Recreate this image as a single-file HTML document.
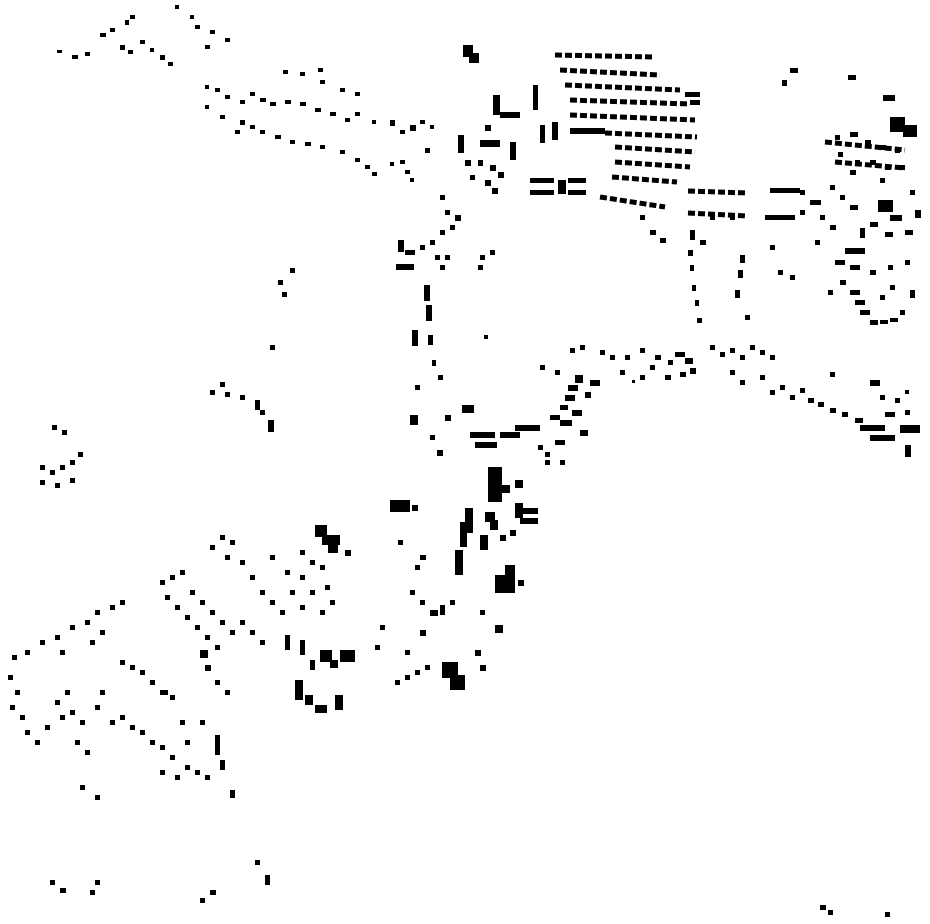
<!DOCTYPE html>
<html><head><meta charset="utf-8"><style>html,body{margin:0;padding:0;background:#fff}svg{display:block}</style></head>
<body>
<svg width="930" height="924" viewBox="0 0 930 924" xmlns="http://www.w3.org/2000/svg">
<rect width="930" height="924" fill="#fff"/>
<g stroke="#000" stroke-width="5" stroke-dasharray="7 3" fill="none">
<line x1="555" y1="55" x2="655" y2="57"/>
<line x1="560" y1="70" x2="660" y2="75"/>
<line x1="565" y1="85" x2="680" y2="90"/>
<line x1="570" y1="100" x2="690" y2="104"/>
<line x1="570" y1="115" x2="695" y2="120"/>
<line x1="605" y1="133" x2="697" y2="137"/>
<line x1="615" y1="147" x2="695" y2="152"/>
<line x1="615" y1="162" x2="690" y2="167"/>
<line x1="612" y1="177" x2="677" y2="182"/>
<line x1="600" y1="197" x2="665" y2="207"/>
<line x1="688" y1="191" x2="748" y2="193"/>
<line x1="688" y1="213" x2="748" y2="216"/>
<line x1="825" y1="142" x2="905" y2="150"/>
<line x1="835" y1="162" x2="905" y2="168"/>
</g>
<g fill="#000">
<path d="M570 128h35v6h-35zM685 92h15v5h-15zM690 100h10v5h-10z"/>
<!-- top-left -->
<path d="M100 33h6v4h-6zM110 28h5v4h-5zM125 20h4v5h-4zM130 15h5v4h-5zM120 45h5v5h-5zM128 50h5v4h-5zM140 40h5v4h-5zM150 48h4v4h-4zM160 55h5v5h-5zM168 62h5v4h-5zM57 50h5v3h-5zM72 55h6v4h-6zM85 52h5v4h-5zM175 5h4v4h-4zM190 15h4v4h-4zM205 45h5v4h-5zM210 30h5v4h-5zM225 38h5v4h-5zM195 25h5v4h-5z"/>
<path d="M205 85h4v4h-4zM215 88h5v4h-5zM225 95h5v4h-5zM240 100h5v4h-5zM250 92h5v4h-5zM260 98h6v4h-6zM270 102h6v4h-6zM285 100h6v4h-6zM300 102h6v4h-6zM315 108h6v4h-6zM330 112h6v4h-6zM345 118h5v4h-5zM355 112h5v4h-5zM372 120h4v4h-4zM235 130h5v4h-5zM250 125h5v4h-5zM260 130h5v4h-5zM275 135h6v4h-6zM290 140h5v4h-5zM305 142h6v4h-6zM320 145h5v4h-5zM340 150h5v4h-5zM355 158h5v4h-5zM365 165h5v4h-5zM372 172h5v4h-5zM205 105h4v4h-4zM220 115h5v4h-5zM240 120h5v5h-5zM283 70h5v4h-5zM300 72h5v4h-5zM318 68h5v4h-5zM320 80h5v4h-5zM340 88h5v4h-5zM355 92h5v4h-5zM390 120h5v6h-5zM400 130h5v4h-5zM410 125h6v6h-6zM420 120h5v4h-5zM430 125h4v4h-4zM400 160h5v4h-5zM405 170h5v4h-5zM410 178h4v4h-4zM390 162h4v4h-4zM425 148h5v5h-5z"/>
<!-- center top -->
<path d="M463 45h10v8h6v10h-10v-6h-6zM493 95h7v20h-7zM500 112h20v6h-20zM533 85h5v25h-5zM485 125h6v6h-6zM458 135h6v18h-6zM480 140h20v7h-20zM510 142h6v18h-6zM540 125h5v18h-5zM552 122h6v18h-6zM465 160h6v6h-6zM478 160h5v6h-5zM490 165h6v6h-6zM498 172h6v6h-6zM470 175h5v5h-5zM485 180h6v6h-6zM492 188h6v6h-6zM530 178h24v5h-24zM530 190h24v5h-24zM558 180h8v14h-8zM568 178h18v5h-18zM568 190h18v5h-18z"/>
<!-- right top -->
<path d="M790 68h8v5h-8zM782 80h5v6h-5zM848 75h8v5h-8zM883 95h12v6h-12zM890 117h15v15h-15zM903 125h14v12h-14zM825 140h6v4h-6zM835 135h5v5h-5zM850 132h8v5h-8zM865 140h6v5h-6zM880 145h6v5h-6zM895 148h5v5h-5zM838 152h5v5h-5zM855 160h5v5h-5zM870 160h6v5h-6zM885 165h6v5h-6zM900 165h5v5h-5zM850 170h6v5h-6zM880 178h5v5h-5zM878 200h15v12h-15zM890 215h12v6h-12zM910 190h5v5h-5zM915 210h6v8h-6zM905 230h8v5h-8zM830 185h5v5h-5zM840 195h5v5h-5zM850 205h8v5h-8zM870 222h8v5h-8zM885 232h8v5h-8zM860 228h5v10h-5zM845 248h20v6h-20zM835 260h10v5h-10zM850 265h10v5h-10zM870 270h6v5h-6zM888 265h5v5h-5zM905 260h5v5h-5zM840 280h6v5h-6zM850 290h10v5h-10zM855 300h10v5h-10zM860 310h10v5h-10zM870 320h8v5h-8zM880 320h8v4h-8zM890 318h8v4h-8zM900 310h5v5h-5zM910 290h5v8h-5zM880 295h5v5h-5zM890 285h5v5h-5zM810 200h5v5h-5zM800 210h5v5h-5zM820 215h5v5h-5zM830 225h6v5h-6zM815 240h5v5h-5zM828 290h5v5h-5z"/>
<path d="M770 188h30v5h-30zM765 215h30v5h-30zM800 190h5v5h-5zM815 200h6v5h-6zM690 230h5v10h-5zM700 240h6v5h-6zM688 250h5v6h-5zM690 265h4v6h-4zM692 285h4v6h-4zM695 300h4v6h-4zM697 318h5v5h-5zM740 255h5v8h-5zM738 270h5v8h-5zM735 290h5v8h-5zM745 315h5v5h-5zM770 245h5v5h-5zM778 270h5v5h-5zM790 275h5v5h-5zM650 230h6v5h-6zM660 238h6v5h-6zM640 215h5v5h-5zM710 215h5v5h-5zM730 215h5v5h-5z"/>
<!-- left curved column -->
<path d="M440 195h5v5h-5zM445 210h5v5h-5zM455 215h6v6h-6zM450 225h5v5h-5zM440 230h5v5h-5zM430 240h5v5h-5zM420 245h5v5h-5zM398 240h6v12h-6zM405 250h10v5h-10zM396 264h18v6h-18zM435 255h5v5h-5zM445 255h5v5h-5zM440 265h5v5h-5zM480 255h5v5h-5zM490 250h5v5h-5zM478 265h5v5h-5zM424 285h6v16h-6zM426 305h6v16h-6zM412 330h6v16h-6zM428 335h5v10h-5zM432 360h4v6h-4zM438 375h5v5h-5zM415 385h5v5h-5zM410 415h8v10h-8zM437 450h6v6h-6zM462 405h12v8h-12zM445 415h6v6h-6zM430 435h5v5h-5z"/>
<!-- middle band -->
<path d="M470 432h25v6h-25zM475 442h22v6h-22zM500 432h20v6h-20zM515 425h25v6h-25zM538 445h5v5h-5zM545 452h5v5h-5zM555 440h10v5h-10zM550 415h10v5h-10zM560 405h8v5h-8zM565 395h10v6h-10zM568 385h10v6h-10zM560 420h12v6h-12zM572 410h10v6h-10zM580 430h8v6h-8zM590 380h10v6h-10zM575 375h8v8h-8zM585 392h6v6h-6zM540 365h5v5h-5zM555 370h5v5h-5zM570 348h5v5h-5zM580 345h5v5h-5zM600 350h5v5h-5zM610 355h5v5h-5zM625 355h5v5h-5zM640 348h5v5h-5zM655 355h6v5h-6zM668 360h5v5h-5zM675 352h10v5h-10zM685 358h8v6h-8zM690 368h6v6h-6zM665 375h6v5h-6zM680 372h6v5h-6zM710 345h5v5h-5zM720 352h5v5h-5zM730 348h5v5h-5zM740 355h5v5h-5zM750 345h5v5h-5zM760 350h5v5h-5zM770 355h5v5h-5zM730 370h5v5h-5zM740 380h5v5h-5zM760 375h5v5h-5zM770 390h5v5h-5zM780 385h5v5h-5zM790 395h5v5h-5zM800 388h5v5h-5zM808 398h6v5h-6zM818 402h6v5h-6zM830 408h6v5h-6zM842 412h6v5h-6zM855 418h8v5h-8zM830 372h5v5h-5zM870 380h10v6h-10zM880 395h5v5h-5zM895 398h5v5h-5zM905 390h4v4h-4zM905 410h5v5h-5zM860 425h25v6h-25zM870 435h25v6h-25zM900 425h20v8h-20zM905 445h6v12h-6zM885 412h10v5h-10zM640 375h5v5h-5zM650 365h5v5h-5zM620 370h5v5h-5zM560 460h5v5h-5zM545 460h5v5h-5z"/>
<!-- south cluster -->
<path d="M488 467h14v35h-14zM500 485h10v8h-10zM515 480h8v8h-8zM515 503h8v15h-8zM520 508h18v6h-18zM520 518h18v6h-18zM465 508h8v25h-8zM460 522h7v25h-7zM455 550h8v25h-8zM485 512h10v10h-10zM490 520h8v10h-8zM480 535h8v15h-8zM500 535h6v6h-6zM510 530h6v6h-6zM495 575h20v18h-20zM505 565h10v10h-10zM518 580h6v6h-6zM390 500h20v12h-20zM412 505h6v6h-6zM398 540h5v5h-5zM420 555h6v5h-6zM415 565h5v5h-5zM410 590h5v5h-5zM420 600h5v5h-5zM430 610h8v6h-8zM440 605h5v10h-5zM450 600h5v5h-5zM420 630h6v6h-6zM405 650h5v5h-5zM442 662h16v16h-16zM450 675h15v15h-15zM475 650h6v6h-6zM480 665h6v6h-6zM495 625h8v8h-8zM480 610h5v5h-5zM380 625h5v5h-5zM375 645h5v5h-5zM395 680h5v5h-5zM405 675h5v5h-5zM415 670h5v5h-5zM425 665h5v5h-5z"/>
<!-- SW cluster -->
<path d="M315 525h12v12h-12zM322 535h18v10h-18zM328 545h10v8h-10zM345 550h6v6h-6zM300 550h5v5h-5zM310 560h5v5h-5zM320 565h5v5h-5zM300 575h5v5h-5zM310 590h5v5h-5zM325 585h5v5h-5zM330 600h5v5h-5zM320 610h5v5h-5zM210 545h5v5h-5zM220 535h5v5h-5zM230 540h5v5h-5zM225 555h5v5h-5zM240 560h5v5h-5zM250 575h5v5h-5zM260 590h5v5h-5zM270 600h5v5h-5zM280 610h5v5h-5zM270 555h5v5h-5zM285 570h5v5h-5zM290 590h5v5h-5zM300 605h5v5h-5zM160 580h5v5h-5zM170 575h5v5h-5zM180 570h5v5h-5zM165 595h5v5h-5zM175 605h5v5h-5zM185 615h5v5h-5zM195 625h5v5h-5zM205 635h5v5h-5zM215 645h5v5h-5zM190 590h5v5h-5zM200 600h5v5h-5zM210 610h5v5h-5zM220 620h5v5h-5zM230 630h5v5h-5zM120 600h5v5h-5zM110 605h5v5h-5zM95 610h5v5h-5zM85 620h5v5h-5zM70 625h5v5h-5zM55 635h5v5h-5zM40 640h5v5h-5zM25 650h5v5h-5zM12 655h5v5h-5zM60 650h5v5h-5zM100 630h5v5h-5zM90 640h5v5h-5zM8 675h5v5h-5zM15 690h5v5h-5zM10 705h5v5h-5zM20 715h5v5h-5zM25 730h5v5h-5zM35 740h5v5h-5zM45 725h5v5h-5zM55 700h5v5h-5zM65 690h5v5h-5zM70 710h5v5h-5zM80 720h5v5h-5zM95 705h5v5h-5zM100 690h5v5h-5zM110 720h5v5h-5zM120 715h5v5h-5zM130 725h5v5h-5zM140 730h5v5h-5zM150 740h5v5h-5zM160 745h5v5h-5zM170 755h5v5h-5zM160 770h5v5h-5zM175 775h5v5h-5zM185 765h5v5h-5zM195 770h5v5h-5zM205 775h5v5h-5zM215 735h5v20h-5zM220 760h5v10h-5zM230 790h5v8h-5zM200 720h5v5h-5zM180 720h5v5h-5zM185 740h5v5h-5zM120 660h5v5h-5zM130 665h5v5h-5zM140 670h5v5h-5zM150 680h5v5h-5zM160 690h8v5h-8zM170 695h5v5h-5zM200 650h8v8h-8zM205 665h6v6h-6zM215 680h5v5h-5zM225 690h5v5h-5zM240 620h5v5h-5zM250 630h5v5h-5zM260 640h5v5h-5zM285 635h5v15h-5zM300 640h5v15h-5zM310 660h5v10h-5zM320 650h12v12h-12zM330 660h8v8h-8zM340 650h15v12h-15zM295 680h8v20h-8zM305 695h8v10h-8zM315 705h12v8h-12zM335 695h8v15h-8zM80 785h5v5h-5zM95 795h5v5h-5zM85 750h5v5h-5zM75 740h5v5h-5zM60 715h5v5h-5z"/>
<!-- isolated -->
<path d="M40 465h5v5h-5zM50 470h5v5h-5zM60 465h5v5h-5zM70 460h5v5h-5zM78 452h5v5h-5zM40 480h5v5h-5zM55 483h5v5h-5zM70 478h5v5h-5zM52 425h5v5h-5zM62 430h5v5h-5zM210 390h5v5h-5zM220 382h5v5h-5zM225 392h5v5h-5zM240 395h5v5h-5zM255 400h5v10h-5zM260 410h5v5h-5zM268 420h6v12h-6zM270 345h5v5h-5zM278 280h5v5h-5zM290 268h5v5h-5zM282 292h5v5h-5zM484 335h4v4h-4zM632 380h3v3h-3z"/>
<path d="M50 880h5v5h-5zM60 888h6v5h-6zM95 880h5v5h-5zM90 890h5v5h-5zM210 890h6v5h-6zM200 898h5v5h-5zM255 860h5v5h-5zM265 875h5v10h-5zM820 905h6v5h-6zM828 910h5v5h-5zM885 912h5v5h-5z"/>
</g>
</svg>
</body></html>
